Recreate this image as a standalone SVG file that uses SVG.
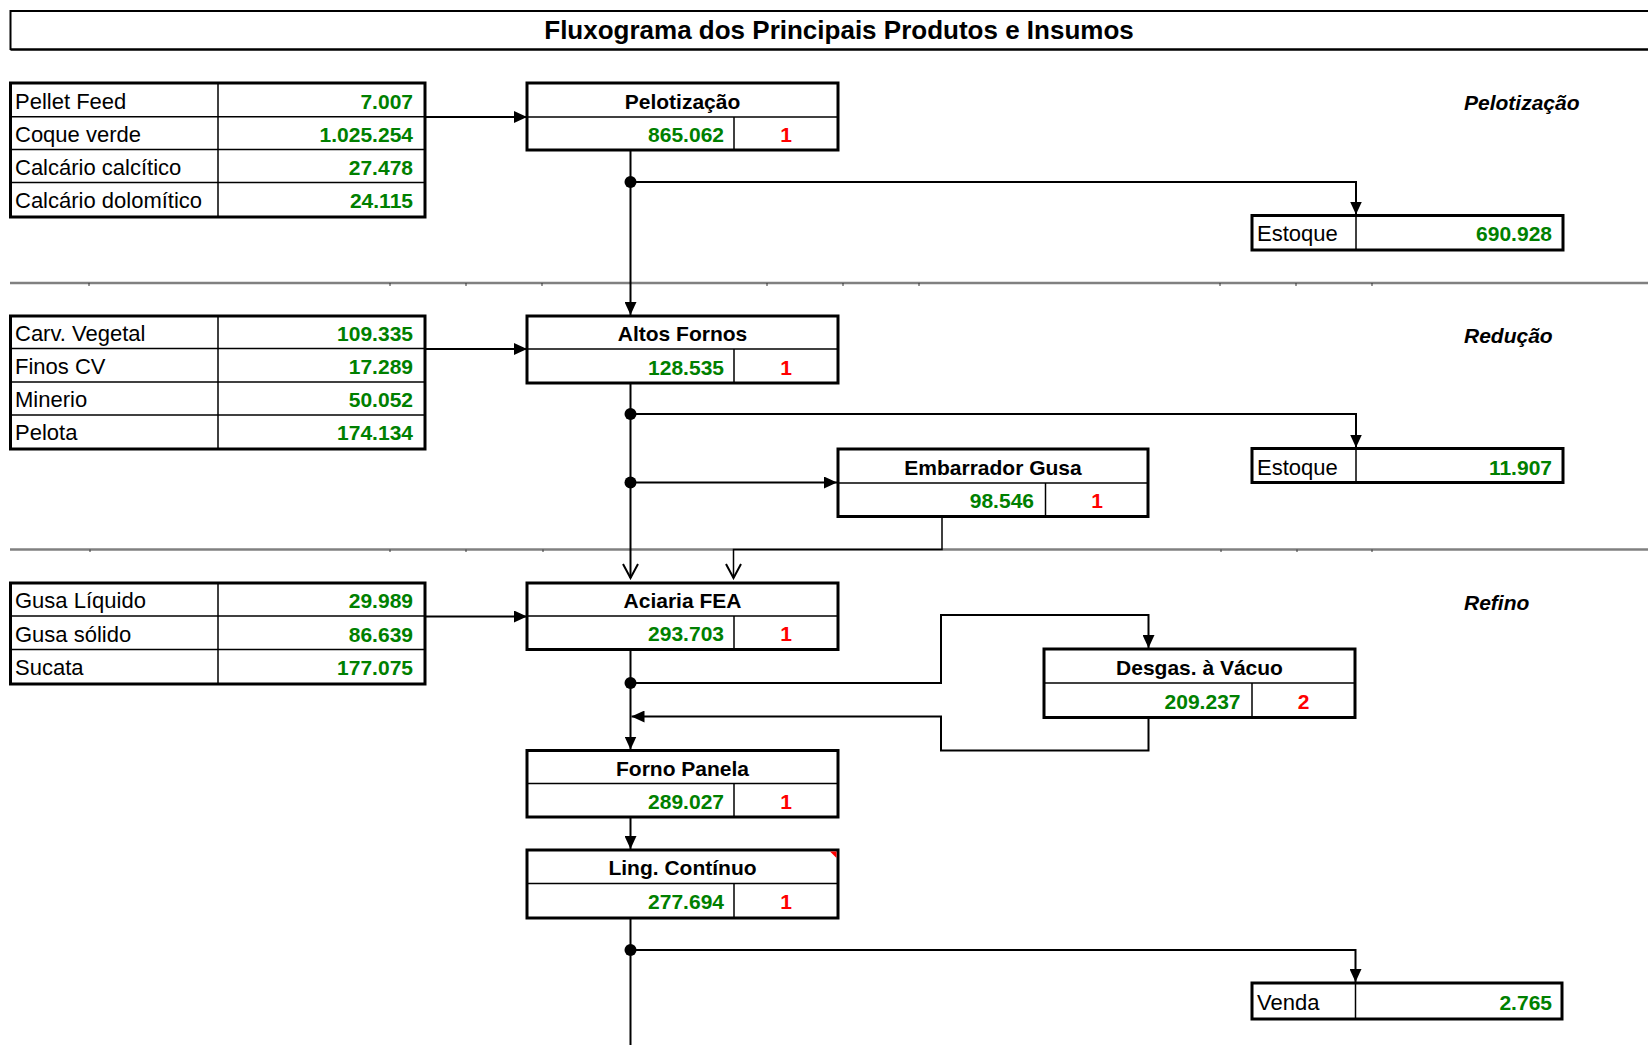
<svg xmlns="http://www.w3.org/2000/svg" width="1648" height="1045" viewBox="0 0 1648 1045">
<style>
text{font-family:"Liberation Sans",Arial,sans-serif}
.lbl{font-size:22px;fill:#000}
.num{font-size:21px;font-weight:bold;fill:#008000;text-anchor:end}
.red{font-size:21px;font-weight:bold;fill:#ff0000;text-anchor:middle}
.ttl{font-size:21px;font-weight:bold;fill:#000;text-anchor:middle}
.sec{font-size:21px;font-weight:bold;font-style:italic;fill:#000}
.box{fill:#fff;stroke:#000;stroke-width:3}
.in{stroke:#000;stroke-width:1.5}
.sep{stroke:#808080;stroke-width:2.5}
.tick{stroke:#333;stroke-width:1}
.con{fill:none;stroke:#000;stroke-width:2}
.thin{fill:none;stroke:#000;stroke-width:1.5}
.dot{fill:#000}
</style>
<defs>
<marker id="arr" markerUnits="userSpaceOnUse" markerWidth="13" markerHeight="12" refX="13" refY="6" orient="auto" viewBox="0 0 13 12">
<path d="M0,0 L13,6 L0,12 Z" fill="#000"/>
</marker>
<marker id="open" markerUnits="userSpaceOnUse" markerWidth="17" markerHeight="18" refX="15" refY="8.5" orient="auto" viewBox="0 0 17 18">
<path d="M1,1 L15,8.5 L1,16" fill="none" stroke="#000" stroke-width="2"/>
</marker>
</defs>
<rect width="1648" height="1045" fill="#fff"/>

<g id="title">
<path d="M10.5,50 L10.5,11 L1648,11" fill="none" stroke="#000" stroke-width="2"/>
<line x1="10.5" y1="49.5" x2="1648" y2="49.5" stroke="#000" stroke-width="2.5"/>
<text x="839" y="39" style="font-size:26px;font-weight:bold;text-anchor:middle">Fluxograma dos Principais Produtos e Insumos</text>
</g>

<g id="separators">
<line class="sep" x1="10" y1="283" x2="1648" y2="283"/>
<line class="sep" x1="10" y1="549.5" x2="1648" y2="549.5"/>
<g class="tick">
<line x1="89" y1="283" x2="89" y2="286"/><line x1="390" y1="283" x2="390" y2="286"/><line x1="466" y1="283" x2="466" y2="286"/><line x1="542" y1="283" x2="542" y2="286"/><line x1="767" y1="283" x2="767" y2="286"/><line x1="843" y1="283" x2="843" y2="286"/><line x1="919" y1="283" x2="919" y2="286"/><line x1="1220" y1="283" x2="1220" y2="286"/><line x1="1296" y1="283" x2="1296" y2="286"/><line x1="1372" y1="283" x2="1372" y2="286"/>
<line x1="90" y1="549.5" x2="90" y2="552"/><line x1="390" y1="549.5" x2="390" y2="552"/><line x1="466" y1="549.5" x2="466" y2="552"/><line x1="543" y1="549.5" x2="543" y2="552"/><line x1="1221" y1="549.5" x2="1221" y2="552"/><line x1="1297" y1="549.5" x2="1297" y2="552"/><line x1="1372" y1="549.5" x2="1372" y2="552"/>
</g>
</g>

<g id="section-labels">
<text class="sec" x="1464" y="110">Pelotização</text>
<text class="sec" x="1464" y="343">Redução</text>
<text class="sec" x="1464" y="610">Refino</text>
</g>

<g id="connectors">
<line class="con" x1="425" y1="117" x2="527" y2="117" marker-end="url(#arr)"/>
<line class="con" x1="630.5" y1="151" x2="630.5" y2="315" marker-end="url(#arr)"/>
<polyline class="con" points="630.5,182 1356,182 1356,214.5" marker-end="url(#arr)"/>
<line class="con" x1="425" y1="349" x2="527" y2="349" marker-end="url(#arr)"/>
<line class="con" x1="630.5" y1="384" x2="630.5" y2="578" marker-end="url(#open)"/>
<polyline class="con" points="630.5,414 1356,414 1356,447.5" marker-end="url(#arr)"/>
<line class="con" x1="630.5" y1="482.5" x2="837" y2="482.5" marker-end="url(#arr)"/>
<polyline class="thin" points="942,517 942,549.5 733.5,549.5 733.5,578" marker-end="url(#open)"/>
<line class="con" x1="425" y1="616.5" x2="527" y2="616.5" marker-end="url(#arr)"/>
<line class="con" x1="630.5" y1="650" x2="630.5" y2="749.5" marker-end="url(#arr)"/>
<polyline class="con" points="630.5,683 941,683 941,615 1148.5,615 1148.5,648" marker-end="url(#arr)"/>
<polyline class="con" points="1148.5,718 1148.5,750.5 941,750.5 941,716.5 631.5,716.5" marker-end="url(#arr)"/>
<line class="con" x1="630.5" y1="818" x2="630.5" y2="849" marker-end="url(#arr)"/>
<line class="con" x1="630.5" y1="919" x2="630.5" y2="1045"/>
<polyline class="con" points="630.5,950 1355.5,950 1355.5,982" marker-end="url(#arr)"/>
<circle class="dot" cx="630.5" cy="182" r="6"/>
<circle class="dot" cx="630.5" cy="414" r="6"/>
<circle class="dot" cx="630.5" cy="482.5" r="6"/>
<circle class="dot" cx="630.5" cy="683" r="6"/>
<circle class="dot" cx="630.5" cy="950" r="6"/>
</g>

<g id="insumos-pelotizacao">
<rect class="box" x="10.5" y="83" width="414.5" height="134"/>
<line class="in" x1="10.5" y1="116.7" x2="425" y2="116.7"/>
<line class="in" x1="10.5" y1="149.5" x2="425" y2="149.5"/>
<line class="in" x1="10.5" y1="182.5" x2="425" y2="182.5"/>
<line class="in" x1="218" y1="83" x2="218" y2="217"/>
<text class="lbl" x="15" y="108.5">Pellet Feed</text><text class="num" x="413" y="108.5">7.007</text>
<text class="lbl" x="15" y="141.5">Coque verde</text><text class="num" x="413" y="141.5">1.025.254</text>
<text class="lbl" x="15" y="174.5">Calcário calcítico</text><text class="num" x="413" y="174.5">27.478</text>
<text class="lbl" x="15" y="207.5">Calcário dolomítico</text><text class="num" x="413" y="207.5">24.115</text>
</g>

<g id="insumos-reducao">
<rect class="box" x="10.5" y="316" width="414.5" height="133"/>
<line class="in" x1="10.5" y1="348.5" x2="425" y2="348.5"/>
<line class="in" x1="10.5" y1="382" x2="425" y2="382"/>
<line class="in" x1="10.5" y1="415" x2="425" y2="415"/>
<line class="in" x1="218" y1="316" x2="218" y2="449"/>
<text class="lbl" x="15" y="341">Carv. Vegetal</text><text class="num" x="413" y="341">109.335</text>
<text class="lbl" x="15" y="374">Finos CV</text><text class="num" x="413" y="374">17.289</text>
<text class="lbl" x="15" y="407">Minerio</text><text class="num" x="413" y="407">50.052</text>
<text class="lbl" x="15" y="440">Pelota</text><text class="num" x="413" y="440">174.134</text>
</g>

<g id="insumos-refino">
<rect class="box" x="10.5" y="583" width="414.5" height="101"/>
<line class="in" x1="10.5" y1="616" x2="425" y2="616"/>
<line class="in" x1="10.5" y1="649.5" x2="425" y2="649.5"/>
<line class="in" x1="218" y1="583" x2="218" y2="684"/>
<text class="lbl" x="15" y="608">Gusa Líquido</text><text class="num" x="413" y="608">29.989</text>
<text class="lbl" x="15" y="641.5">Gusa sólido</text><text class="num" x="413" y="641.5">86.639</text>
<text class="lbl" x="15" y="675">Sucata</text><text class="num" x="413" y="675">177.075</text>
</g>

<g id="pelotizacao">
<rect class="box" x="527" y="83" width="311" height="67"/>
<line class="in" x1="527" y1="117" x2="838" y2="117"/>
<line class="in" x1="734" y1="117" x2="734" y2="150"/>
<text class="ttl" x="682.5" y="108.5">Pelotização</text>
<text class="num" x="724" y="142">865.062</text>
<text class="red" x="786" y="142">1</text>
</g>

<g id="estoque-pelotizacao">
<rect class="box" x="1252" y="215.5" width="311" height="34.5"/>
<line class="in" x1="1356" y1="215.5" x2="1356" y2="250"/>
<text class="lbl" x="1257" y="241">Estoque</text>
<text class="num" x="1552" y="241">690.928</text>
</g>

<g id="altos-fornos">
<rect class="box" x="527" y="316" width="311" height="67"/>
<line class="in" x1="527" y1="349" x2="838" y2="349"/>
<line class="in" x1="734" y1="349" x2="734" y2="383"/>
<text class="ttl" x="682.5" y="341">Altos Fornos</text>
<text class="num" x="724" y="374.5">128.535</text>
<text class="red" x="786" y="374.5">1</text>
</g>

<g id="estoque-reducao">
<rect class="box" x="1252" y="448.5" width="311" height="34"/>
<line class="in" x1="1356" y1="448.5" x2="1356" y2="482.5"/>
<text class="lbl" x="1257" y="474.5">Estoque</text>
<text class="num" x="1552" y="474.5">11.907</text>
</g>

<g id="embarrador-gusa">
<rect class="box" x="838" y="449" width="310" height="67.5"/>
<line class="in" x1="838" y1="483" x2="1148" y2="483"/>
<line class="in" x1="1045.5" y1="483" x2="1045.5" y2="516.5"/>
<text class="ttl" x="993" y="474.5">Embarrador Gusa</text>
<text class="num" x="1034" y="508">98.546</text>
<text class="red" x="1097" y="508">1</text>
</g>

<g id="aciaria-fea">
<rect class="box" x="527" y="583" width="311" height="66.5"/>
<line class="in" x1="527" y1="616" x2="838" y2="616"/>
<line class="in" x1="734" y1="616" x2="734" y2="649.5"/>
<text class="ttl" x="682.5" y="608">Aciaria FEA</text>
<text class="num" x="724" y="641">293.703</text>
<text class="red" x="786" y="641">1</text>
</g>

<g id="desgas-vacuo">
<rect class="box" x="1044" y="649" width="311" height="68.5"/>
<line class="in" x1="1044" y1="683" x2="1355" y2="683"/>
<line class="in" x1="1252" y1="683" x2="1252" y2="717.5"/>
<text class="ttl" x="1199.5" y="674.5">Desgas. à Vácuo</text>
<text class="num" x="1240.5" y="708.5">209.237</text>
<text class="red" x="1303.5" y="708.5">2</text>
</g>

<g id="forno-panela">
<rect class="box" x="527" y="750.5" width="311" height="66.5"/>
<line class="in" x1="527" y1="783.5" x2="838" y2="783.5"/>
<line class="in" x1="734" y1="783.5" x2="734" y2="817"/>
<text class="ttl" x="682.5" y="775.5">Forno Panela</text>
<text class="num" x="724" y="808.5">289.027</text>
<text class="red" x="786" y="808.5">1</text>
</g>

<g id="ling-continuo">
<rect class="box" x="527" y="850" width="311" height="68"/>
<line class="in" x1="527" y1="883.5" x2="838" y2="883.5"/>
<line class="in" x1="734" y1="883.5" x2="734" y2="918"/>
<polygon points="830,851.5 836.5,851.5 836.5,858" fill="#ff0000"/>
<text class="ttl" x="682.5" y="875">Ling. Contínuo</text>
<text class="num" x="724" y="909">277.694</text>
<text class="red" x="786" y="909">1</text>
</g>

<g id="venda">
<rect class="box" x="1252" y="983" width="310" height="36"/>
<line class="in" x1="1355.5" y1="983" x2="1355.5" y2="1019"/>
<text class="lbl" x="1257" y="1010">Venda</text>
<text class="num" x="1552" y="1010">2.765</text>
</g>
</svg>
